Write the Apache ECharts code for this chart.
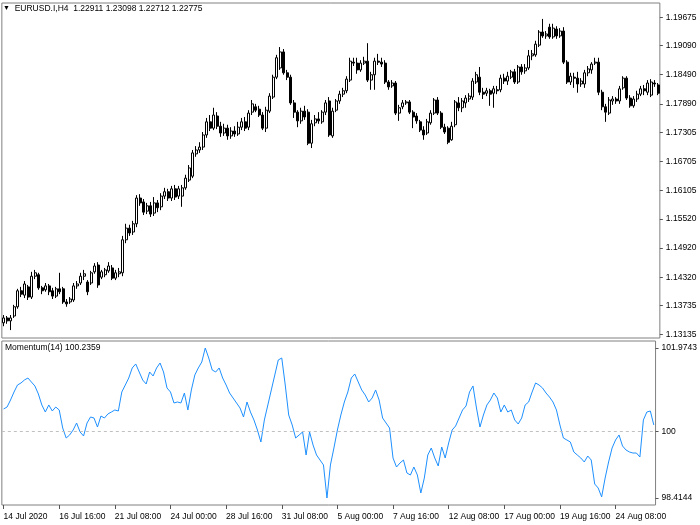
<!DOCTYPE html>
<html><head><meta charset="utf-8">
<script src="https://cdn.jsdelivr.net/npm/echarts@6/dist/echarts.min.js"></script>
<style>html,body{margin:0;padding:0;background:#fff}#c{width:700px;height:525px}</style>
</head><body><div id="c"></div>
<script>
const opens=[1.1338,1.1348,1.1342,1.1352,1.1371,1.1404,1.1395,1.1412,1.1391,1.1434,1.1437,1.1410,1.1406,1.1414,1.1404,1.1393,1.1408,1.1408,1.1381,1.1381,1.1385,1.1414,1.1420,1.1434,1.1422,1.1420,1.1443,1.1457,1.1432,1.1437,1.1445,1.1451,1.1430,1.1439,1.1441,1.1509,1.1533,1.1525,1.1542,1.1595,1.1587,1.1568,1.1579,1.1564,1.1585,1.1577,1.1599,1.1608,1.1595,1.1614,1.1599,1.1599,1.1616,1.1632,1.1640,1.1686,1.1694,1.1700,1.1725,1.1752,1.1739,1.1764,1.1743,1.1729,1.1739,1.1723,1.1733,1.1727,1.1741,1.1752,1.1741,1.1772,1.1783,1.1778,1.1766,1.1739,1.1774,1.1803,1.1844,1.1863,1.1896,1.1853,1.1844,1.1791,1.1772,1.1754,1.1774,1.1772,1.1708,1.1750,1.1758,1.1752,1.1772,1.1795,1.1723,1.1776,1.1795,1.1809,1.1816,1.1838,1.1875,1.1873,1.1859,1.1873,1.1877,1.1838,1.1849,1.1877,1.1875,1.1873,1.1834,1.1826,1.1832,1.1770,1.1783,1.1791,1.1793,1.1772,1.1764,1.1752,1.1735,1.1729,1.1750,1.1770,1.1797,1.1770,1.1741,1.1739,1.1715,1.1746,1.1791,1.1781,1.1791,1.1799,1.1803,1.1834,1.1844,1.1813,1.1811,1.1816,1.1811,1.1818,1.1818,1.1842,1.1836,1.1844,1.1855,1.1834,1.1865,1.1857,1.1863,1.1888,1.1890,1.1910,1.1937,1.1929,1.1947,1.1927,1.1943,1.1929,1.1939,1.1875,1.1834,1.1844,1.1842,1.1830,1.1830,1.1853,1.1859,1.1873,1.1875,1.1813,1.1783,1.1770,1.1795,1.1799,1.1795,1.1822,1.1842,1.1801,1.1785,1.1799,1.1809,1.1820,1.1813,1.1807,1.1832,1.1828];
const highs=[1.1354,1.1352,1.1354,1.1375,1.1408,1.1412,1.1424,1.1416,1.1443,1.1447,1.1441,1.1414,1.1420,1.1418,1.1410,1.1412,1.1441,1.1412,1.1387,1.1391,1.1420,1.1424,1.1441,1.1447,1.1426,1.1445,1.1461,1.1463,1.1447,1.1451,1.1463,1.1457,1.1447,1.1451,1.1517,1.1542,1.1540,1.1548,1.1601,1.1603,1.1593,1.1585,1.1587,1.1597,1.1591,1.1605,1.1616,1.1614,1.1620,1.1622,1.1620,1.1622,1.1643,1.1663,1.1694,1.1702,1.1710,1.1731,1.1760,1.1766,1.1781,1.1772,1.1752,1.1748,1.1746,1.1741,1.1743,1.1752,1.1760,1.1762,1.1776,1.1797,1.1789,1.1785,1.1772,1.1783,1.1811,1.1849,1.1890,1.1906,1.1902,1.1859,1.1849,1.1797,1.1776,1.1781,1.1785,1.1778,1.1756,1.1766,1.1772,1.1776,1.1797,1.1803,1.1781,1.1799,1.1816,1.1822,1.1846,1.1884,1.1884,1.1884,1.1879,1.1886,1.1914,1.1855,1.1884,1.1892,1.1884,1.1879,1.1838,1.1838,1.1836,1.1787,1.1797,1.1797,1.1797,1.1776,1.1770,1.1756,1.1743,1.1758,1.1776,1.1801,1.1803,1.1774,1.1748,1.1743,1.1752,1.1797,1.1803,1.1801,1.1807,1.1811,1.1842,1.1855,1.1865,1.1822,1.1822,1.1820,1.1826,1.1826,1.1849,1.1851,1.1855,1.1859,1.1861,1.1869,1.1871,1.1871,1.1900,1.1900,1.1919,1.1941,1.1964,1.1939,1.1954,1.1954,1.1949,1.1945,1.1947,1.1879,1.1853,1.1853,1.1855,1.1842,1.1859,1.1867,1.1875,1.1884,1.1884,1.1818,1.1789,1.1803,1.1805,1.1803,1.1826,1.1846,1.1846,1.1807,1.1805,1.1816,1.1826,1.1828,1.1838,1.1840,1.1838,1.1832];
const lows=[1.1331,1.1336,1.1323,1.1348,1.1367,1.1391,1.1389,1.1385,1.1387,1.1428,1.1406,1.1397,1.1402,1.1395,1.1387,1.1389,1.1397,1.1377,1.1371,1.1377,1.1381,1.1408,1.1416,1.1426,1.1395,1.1416,1.1439,1.1410,1.1428,1.1432,1.1441,1.1426,1.1426,1.1432,1.1434,1.1502,1.1517,1.1519,1.1535,1.1579,1.1560,1.1562,1.1556,1.1558,1.1566,1.1570,1.1593,1.1589,1.1589,1.1591,1.1593,1.1577,1.1612,1.1628,1.1636,1.1680,1.1688,1.1694,1.1719,1.1733,1.1735,1.1737,1.1721,1.1723,1.1715,1.1717,1.1721,1.1723,1.1735,1.1733,1.1735,1.1766,1.1772,1.1762,1.1735,1.1731,1.1770,1.1799,1.1840,1.1859,1.1849,1.1838,1.1787,1.1760,1.1741,1.1748,1.1756,1.1704,1.1698,1.1743,1.1748,1.1748,1.1766,1.1721,1.1719,1.1772,1.1789,1.1803,1.1811,1.1834,1.1867,1.1851,1.1855,1.1869,1.1834,1.1818,1.1818,1.1869,1.1865,1.1830,1.1818,1.1822,1.1766,1.1754,1.1778,1.1787,1.1768,1.1739,1.1748,1.1731,1.1715,1.1725,1.1746,1.1766,1.1766,1.1737,1.1727,1.1706,1.1713,1.1741,1.1774,1.1772,1.1781,1.1793,1.1797,1.1830,1.1807,1.1799,1.1805,1.1785,1.1781,1.1809,1.1813,1.1830,1.1828,1.1840,1.1830,1.1830,1.1849,1.1851,1.1859,1.1879,1.1886,1.1906,1.1925,1.1923,1.1923,1.1923,1.1923,1.1925,1.1871,1.1830,1.1828,1.1822,1.1812,1.1824,1.1822,1.1846,1.1851,1.1869,1.1807,1.1776,1.1752,1.1766,1.1787,1.1789,1.1789,1.1818,1.1797,1.1781,1.1781,1.1793,1.1805,1.1807,1.1807,1.1803,1.1824,1.1807];
const closes=[1.1348,1.1342,1.1348,1.1371,1.1404,1.1397,1.1418,1.1391,1.1434,1.1441,1.1410,1.1404,1.1414,1.1402,1.1393,1.1408,1.1402,1.1381,1.1377,1.1387,1.1414,1.1418,1.1434,1.1439,1.1402,1.1441,1.1455,1.1416,1.1443,1.1447,1.1455,1.1430,1.1441,1.1443,1.1509,1.1533,1.1523,1.1542,1.1595,1.1585,1.1566,1.1579,1.1562,1.1585,1.1575,1.1599,1.1608,1.1595,1.1614,1.1597,1.1614,1.1616,1.1636,1.1657,1.1688,1.1694,1.1700,1.1725,1.1752,1.1739,1.1766,1.1743,1.1729,1.1739,1.1723,1.1733,1.1727,1.1741,1.1752,1.1739,1.1770,1.1789,1.1776,1.1766,1.1739,1.1776,1.1805,1.1844,1.1884,1.1896,1.1853,1.1844,1.1791,1.1772,1.1754,1.1774,1.1762,1.1708,1.1748,1.1758,1.1754,1.1772,1.1791,1.1725,1.1774,1.1795,1.1809,1.1816,1.1840,1.1877,1.1873,1.1859,1.1873,1.1877,1.1838,1.1849,1.1877,1.1875,1.1871,1.1834,1.1824,1.1832,1.1770,1.1781,1.1791,1.1793,1.1772,1.1762,1.1754,1.1735,1.1725,1.1752,1.1770,1.1797,1.1770,1.1741,1.1731,1.1710,1.1743,1.1793,1.1781,1.1795,1.1801,1.1805,1.1836,1.1849,1.1813,1.1809,1.1816,1.1809,1.1820,1.1816,1.1842,1.1836,1.1846,1.1855,1.1834,1.1865,1.1855,1.1863,1.1888,1.1892,1.1912,1.1937,1.1929,1.1933,1.1927,1.1945,1.1929,1.1939,1.1875,1.1834,1.1846,1.1842,1.1830,1.1836,1.1853,1.1861,1.1871,1.1875,1.1813,1.1783,1.1772,1.1797,1.1799,1.1795,1.1820,1.1842,1.1801,1.1785,1.1799,1.1809,1.1820,1.1816,1.1832,1.1834,1.1830,1.1811];
const momentum=[100.527,100.574,100.740,100.930,101.096,101.144,101.215,101.262,101.167,101.073,100.883,100.622,100.455,100.622,100.479,100.574,100.503,100.076,99.838,99.910,100.028,100.194,99.981,99.886,100.194,100.337,100.313,100.099,100.360,100.313,100.408,100.455,100.503,100.479,100.930,101.096,101.262,101.500,101.595,101.405,101.215,101.120,101.405,101.310,101.500,101.618,101.405,101.025,100.930,100.669,100.693,100.669,100.906,100.503,100.978,101.334,101.500,101.642,101.9743,101.737,101.452,101.405,101.500,101.262,101.096,100.906,100.788,100.669,100.550,100.337,100.693,100.455,100.266,100.028,99.743,100.266,100.622,100.978,101.334,101.690,101.737,101.096,100.384,100.147,99.838,99.910,99.981,99.435,99.981,99.672,99.435,99.316,99.198,98.4144,99.198,99.601,100.028,100.384,100.693,100.930,101.262,101.357,101.167,100.978,100.859,100.693,100.788,100.978,100.740,100.313,100.194,100.076,99.364,99.150,99.245,99.316,99.008,98.960,99.150,98.960,98.533,98.889,99.435,99.601,99.364,99.174,99.625,99.364,99.720,100.028,100.123,100.313,100.503,100.598,100.930,101.073,100.550,100.099,100.384,100.622,100.740,100.906,100.788,100.455,100.622,100.455,100.503,100.266,100.171,100.313,100.622,100.693,100.930,101.144,101.096,101.025,100.906,100.811,100.693,100.503,100.147,99.838,99.791,99.743,99.506,99.435,99.364,99.269,99.411,99.316,98.747,98.652,98.440,98.889,99.269,99.601,99.791,99.910,99.649,99.554,99.506,99.482,99.482,99.387,100.266,100.455,100.479,100.147];
const priceTicks=[1.19675,1.19090,1.18490,1.17890,1.17305,1.16705,1.16105,1.15520,1.14920,1.14320,1.13735,1.13135];
const momTicks=[98.4144,100,101.9743];
const timeTicks=['14 Jul 2020','16 Jul 16:00','21 Jul 08:00','24 Jul 00:00','28 Jul 16:00','31 Jul 08:00','5 Aug 00:00','7 Aug 16:00','12 Aug 08:00','17 Aug 00:00','19 Aug 16:00','24 Aug 08:00'];

// H4 bar times, Mon-Fri, starting 14 Jul 2020 00:00
const categories=[];
(function(){
  let t=Date.UTC(2020,6,14,0,0);
  while(categories.length<closes.length){
    const d=new Date(t);
    const wd=d.getUTCDay();
    if(wd!==0&&wd!==6) categories.push(d.toISOString().slice(0,16));
    t+=4*3600*1000;
  }
})();

const candleData=opens.map((o,i)=>[o,closes[i],lows[i],highs[i]]);
const FONT='Liberation Sans, Arial, sans-serif';
const chart=echarts.init(document.getElementById('c'),null,{renderer:'canvas'});
chart.setOption({
  animation:false,
  backgroundColor:'#ffffff',
  textStyle:{fontFamily:FONT},
  title:[
    {text:'{t|▼}  EURUSD.I,H4  1.22911 1.23098 1.22712 1.22775',left:3,top:4,padding:0,
     textStyle:{fontSize:8.5,fontWeight:'normal',color:'#000',fontFamily:FONT,rich:{t:{fontSize:7,color:'#000'}}}},
    {text:'Momentum(14) 100.2359',left:5,top:343,padding:0,
     textStyle:{fontSize:8.5,fontWeight:'normal',color:'#000',fontFamily:FONT}}
  ],
  grid:[
    {left:1.85,top:3,width:658,height:335,show:true,borderColor:'#808080',borderWidth:1,backgroundColor:'transparent'},
    {left:1.85,top:341,width:658,height:164,show:true,borderColor:'#808080',borderWidth:1,backgroundColor:'transparent'}
  ],
  xAxis:[
    {type:'category',gridIndex:0,data:categories,boundaryGap:true,
     axisLine:{show:false},axisTick:{show:false},axisLabel:{show:false},splitLine:{show:false}},
    {type:'category',gridIndex:1,data:categories,boundaryGap:true,
     axisLine:{show:false},
     axisTick:{show:true,interval:15,alignWithLabel:true,length:4,lineStyle:{color:'#555'}},
     axisLabel:{show:true,interval:15,align:'left',margin:7,fontSize:8.5,color:'#000',fontFamily:FONT,
       formatter:(v,idx)=>timeTicks[Math.round(idx/16)]||''},
     splitLine:{show:false}}
  ],
  yAxis:[
    {type:'value',gridIndex:0,position:'right',min:1.13067,max:1.19968,scale:true,
     axisLine:{show:false},
     axisTick:{show:true,length:3,customValues:priceTicks,lineStyle:{color:'#555'}},
     axisLabel:{show:true,customValues:priceTicks,margin:6,fontSize:8.5,color:'#000',fontFamily:FONT,
       formatter:v=>v.toFixed(5)},
     splitLine:{show:false}},
    {type:'value',gridIndex:1,position:'right',min:98.2483,max:102.1404,scale:true,
     axisLine:{show:false},
     axisTick:{show:true,length:3,customValues:momTicks,lineStyle:{color:'#555'}},
     axisLabel:{show:true,customValues:momTicks,margin:6,fontSize:8.5,color:'#000',fontFamily:FONT,
       formatter:v=>(Math.abs(v-100)<1e-9?'100':v.toFixed(4))},
     splitLine:{show:false}}
  ],
  series:[
    {type:'candlestick',xAxisIndex:0,yAxisIndex:0,data:candleData,barWidth:2.4,
     itemStyle:{color:'#ffffff',color0:'#000000',borderColor:'#000000',borderColor0:'#000000',borderWidth:1}},
    {type:'line',xAxisIndex:1,yAxisIndex:1,data:momentum,showSymbol:false,symbol:'none',
     lineStyle:{color:'#1E90FF',width:1},
     markLine:{silent:true,symbol:['none','none'],label:{show:false},
       lineStyle:{color:'#c0c0c0',type:[3,3],width:1},data:[{yAxis:100}]}}
  ]
});
</script>
</body></html>
